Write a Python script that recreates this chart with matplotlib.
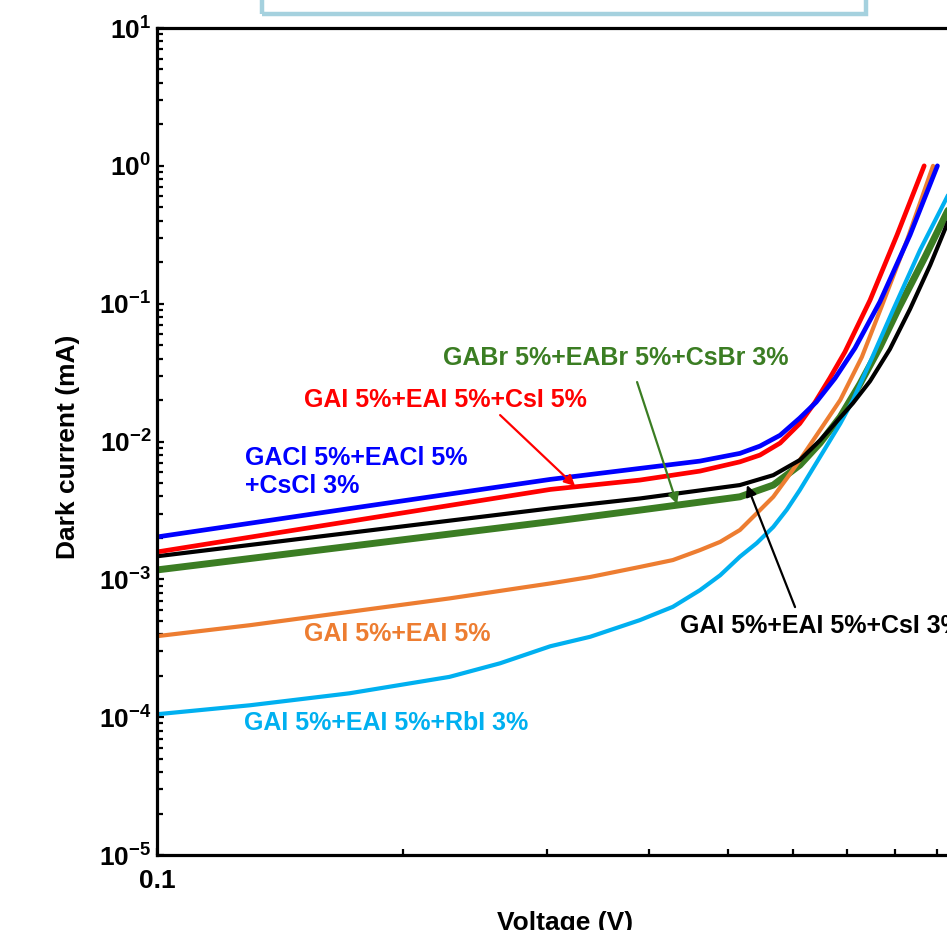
import matplotlib.pyplot as plt
from matplotlib.patches import Rectangle
from matplotlib.ticker import FixedLocator, NullFormatter, FuncFormatter
import numpy as np

plt.rcParams['font.family'] = ['Liberation Sans', 'DejaVu Sans']
plt.rcParams['font.weight'] = 'bold'
plt.rcParams['mathtext.fontset'] = 'custom'
plt.rcParams['mathtext.rm'] = 'Liberation Sans:bold'
plt.rcParams['mathtext.bf'] = 'Liberation Sans:bold'
plt.rcParams['mathtext.default'] = 'bf'

# dark current curves, voltage in V, current in mA
v_gacl = [0.100, 0.172, 0.303, 0.390, 0.462, 0.517, 0.547, 0.579, 0.612, 0.641, 0.676, 0.715,
          0.767, 0.835, 0.902]
i_gacl = [2.03e-3, 3.26e-3, 5.31e-3, 6.38e-3, 7.21e-3, 8.20e-3, 9.26e-3, 1.11e-2, 1.48e-2,
          1.93e-2, 2.88e-2, 4.76e-2, 0.103, 0.315, 1.0]

v_csi5 = [0.100, 0.303, 0.390, 0.462, 0.517, 0.547, 0.579, 0.612, 0.639, 0.666, 0.695, 0.746,
          0.805, 0.869]
i_csi5 = [1.58e-3, 4.49e-3, 5.25e-3, 6.10e-3, 7.12e-3, 7.97e-3, 9.74e-3, 1.35e-2, 1.93e-2,
          2.88e-2, 4.46e-2, 0.106, 0.315, 1.0]

v_csi3 = [0.100, 0.303, 0.390, 0.517, 0.568, 0.612, 0.648, 0.678, 0.711, 0.746, 0.789, 0.835,
          0.884, 0.927, 0.994]
i_csi3 = [1.47e-3, 3.27e-3, 3.86e-3, 4.83e-3, 5.70e-3, 7.33e-3, 1.02e-2, 1.38e-2, 1.90e-2,
          2.74e-2, 4.68e-2, 9.13e-2, 0.191, 0.378, 1.0]

v_gabr = [0.100, 0.303, 0.390, 0.517, 0.568, 0.612, 0.648, 0.686, 0.725, 0.767, 0.810, 0.871,
          0.927, 0.992]
i_gabr = [1.17e-3, 2.62e-3, 3.18e-3, 3.97e-3, 4.83e-3, 6.74e-3, 9.74e-3, 1.51e-2, 2.61e-2,
          4.84e-2, 9.45e-2, 0.218, 0.462, 1.0]

v_ref = [0.100, 0.130, 0.172, 0.228, 0.303, 0.339, 0.390, 0.428, 0.462, 0.489, 0.517, 0.542,
         0.568, 0.590, 0.612, 0.648, 0.686, 0.729, 0.772, 0.828, 0.891]
i_ref = [3.87e-4, 4.65e-4, 5.81e-4, 7.27e-4, 9.34e-4, 1.04e-3, 1.23e-3, 1.38e-3, 1.63e-3,
         1.87e-3, 2.28e-3, 3.01e-3, 3.97e-3, 5.40e-3, 7.33e-3, 1.21e-2, 2.00e-2, 4.10e-2,
         9.77e-2, 0.289, 1.0]

v_rbi = [0.100, 0.130, 0.172, 0.228, 0.263, 0.303, 0.339, 0.390, 0.428, 0.462, 0.489, 0.517,
         0.542, 0.568, 0.590, 0.612, 0.648, 0.686, 0.711, 0.750, 0.796, 0.859, 0.927, 0.969]
i_rbi = [1.05e-4, 1.22e-4, 1.49e-4, 1.96e-4, 2.46e-4, 3.27e-4, 3.83e-4, 5.06e-4, 6.32e-4,
         8.35e-4, 1.07e-3, 1.46e-3, 1.83e-3, 2.40e-3, 3.20e-3, 4.44e-3, 7.74e-3, 1.35e-2,
         2.00e-2, 4.03e-2, 8.98e-2, 0.245, 0.594, 1.0]

green = '#3b7d23'
orange = '#ed7d31'
cyan = '#00b0f0'

fig = plt.figure(figsize=(9.47, 9.30), dpi=100)
ax = fig.add_axes([157 / 947, 75 / 930, 817 / 947, 827 / 930])

ax.plot(v_gabr, i_gabr, color=green, lw=5.0, solid_capstyle='round', solid_joinstyle='round')
ax.plot(v_ref, i_ref, color=orange, lw=3.0, solid_capstyle='round', solid_joinstyle='round')
ax.plot(v_rbi, i_rbi, color=cyan, lw=3.0, solid_capstyle='round', solid_joinstyle='round')
ax.plot(v_csi3, i_csi3, color='black', lw=3.0, solid_capstyle='round', solid_joinstyle='round')
ax.plot(v_csi5, i_csi5, color='red', lw=3.4, solid_capstyle='round', solid_joinstyle='round')
ax.plot(v_gacl, i_gacl, color='blue', lw=3.4, solid_capstyle='round', solid_joinstyle='round')

ax.set_xscale('log')
ax.set_yscale('log')
ax.set_xlim(0.1, 1.0)
ax.set_ylim(1e-5, 1e1)

ax.xaxis.set_major_locator(FixedLocator([0.1]))
ax.xaxis.set_minor_locator(FixedLocator([0.2, 0.3, 0.4, 0.5, 0.6, 0.7, 0.8, 0.9]))
ax.xaxis.set_major_formatter(FuncFormatter(lambda v, _: '%g' % v))
ax.xaxis.set_minor_formatter(NullFormatter())

ydec = [10.0 ** k for k in range(-5, 2)]
yminor = [m * 10.0 ** k for k in range(-5, 1) for m in range(2, 10)]
ax.yaxis.set_major_locator(FixedLocator(ydec))
ax.yaxis.set_minor_locator(FixedLocator(yminor))
ax.yaxis.set_major_formatter(FuncFormatter(lambda v, _: r'$\mathbf{10^{%d}}$' % round(np.log10(v))))
ax.yaxis.set_minor_formatter(NullFormatter())

ax.tick_params(which='both', direction='in', width=1.6, labelsize=19)
ax.tick_params(which='major', length=5)
ax.tick_params(which='minor', length=4.5)
ax.tick_params(axis='x', pad=10)
ax.tick_params(axis='y', pad=4)
for side in ['left', 'bottom', 'top', 'right']:
    ax.spines[side].set_linewidth(2.3)

fig.text(68 / 947, 483 / 930, 'Dark current (mA)', rotation=90, ha='center', va='center',
         fontsize=19, fontweight='bold')
fig.text(565 / 947, 19 / 930, 'Voltage (V)', ha='center', va='top', fontsize=19, fontweight='bold')

# labels and arrows
ax.text(0.3646, 0.0403, 'GABr 5%+EABr 5%+CsBr 3%', color=green, fontsize=18, ha='center', va='center')
ax.annotate('', xy=(0.4331, 3.51e-3), xytext=(0.3869, 0.0270),
            arrowprops=dict(arrowstyle='-|>', color=green, lw=1.6, mutation_scale=16, shrinkA=0, shrinkB=0))

ax.text(0.2252, 0.01997, 'GAI 5%+EAI 5%+CsI 5%', color='red', fontsize=18, ha='center', va='center')
ax.annotate('', xy=(0.3249, 4.75e-3), xytext=(0.2630, 0.01555),
            arrowprops=dict(arrowstyle='-|>', color='red', lw=1.6, mutation_scale=16, shrinkA=0, shrinkB=0))

ax.text(0.1281, 5.99e-3, 'GACl 5%+EACl 5%\n+CsCl 3%', color='blue', fontsize=18, ha='left', va='center',
        linespacing=1.2)

ax.text(0.1967, 4.00e-4, 'GAI 5%+EAI 5%', color=orange, fontsize=18, ha='center', va='center')
ax.text(0.1907, 9.05e-5, 'GAI 5%+EAI 5%+RbI 3%', color=cyan, fontsize=18, ha='center', va='center')

ax.text(0.4367, 4.57e-4, 'GAI 5%+EAI 5%+CsI 3%', color='black', fontsize=18, ha='left', va='center')
ax.annotate('', xy=(0.5274, 4.83e-3), xytext=(0.6039, 6.29e-4),
            arrowprops=dict(arrowstyle='-|>', color='black', lw=1.6, mutation_scale=16, shrinkA=0, shrinkB=0))

# top box, partly outside the figure
fig.add_artist(Rectangle((262 / 947, 916 / 930), 604 / 947, 0.1, transform=fig.transFigure,
                         fill=False, edgecolor='#a5d1de', lw=3.2))

fig.savefig('out.png', dpi=100)
